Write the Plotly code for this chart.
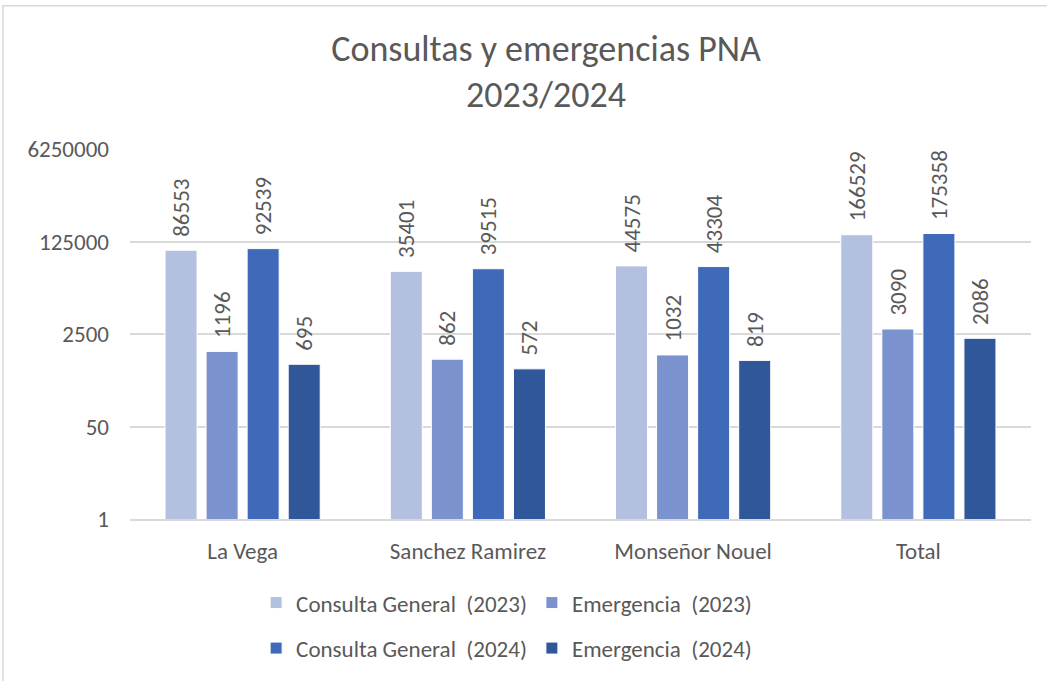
import math
import plotly.graph_objects as go

categories = ["La Vega", "Sanchez Ramirez", "Monseñor Nouel", "Total"]
series_names = ["Consulta General  (2023)", "Emergencia  (2023)",
                "Consulta General  (2024)", "Emergencia  (2024)"]
consulta_2023 = [86553, 35401, 44575, 166529]
emergencia_2023 = [1196, 862, 1032, 3090]
consulta_2024 = [92539, 39515, 43304, 175358]
emergencia_2024 = [695, 572, 819, 2086]
tick_vals = [1, 50, 2500, 125000, 6250000]
tick_text = ["1", "50", "2500", "125000", "6250000"]

colors = ["#B4C0E0", "#7A93CF", "#3F69B9", "#30579A"]
all_series = [consulta_2023, emergencia_2023, consulta_2024, emergencia_2024]
legends = ["legend", "legend", "legend2", "legend2"]

FONT = "Carlito, Calibri, 'Liberation Sans Narrow', 'Noto Sans', sans-serif"
TXT = "#595959"
FS = 23

fig = go.Figure()
for name, vals, col, lg in zip(series_names, all_series, colors, legends):
    fig.add_trace(go.Bar(
        x=categories, y=vals, name=name, legend=lg,
        marker=dict(color=col, line=dict(color="white", width=1)),
        text=["\u00a0\u00a0" + str(v) for v in vals],
        textposition="outside", textangle=-90, constraintext="none",
        textfont=dict(family=FONT, size=FS, color=TXT),
        cliponaxis=False,
    ))

fig.update_layout(
    width=1047, height=681,
    paper_bgcolor="white", plot_bgcolor="white",
    margin=dict(l=130, r=16, t=149, b=160),
    barmode="group", bargap=0.271, bargroupgap=0.22,
    font=dict(family=FONT, color=TXT, size=FS),
    title=dict(text="Consultas y emergencias PNA<br>2023/2024",
               x=0.5215, xanchor="center", y=0.911, yanchor="middle",
               font=dict(family=FONT, size=36, color=TXT)),
    legend=dict(orientation="h", x=0.418, xanchor="center", y=-0.226, yanchor="middle",
                font=dict(family=FONT, size=FS, color=TXT), traceorder="normal"),
    legend2=dict(orientation="h", x=0.418, xanchor="center", y=-0.349, yanchor="middle",
                 font=dict(family=FONT, size=FS, color=TXT), traceorder="normal"),
)
fig.update_yaxes(type="log", range=[0, math.log10(6250000)],
                 tickvals=tick_vals, ticktext=tick_text,
                 showgrid=True, gridcolor="#D9D9D9", gridwidth=1.5,
                 zeroline=False, showline=False, ticks="", ticklabelstandoff=20,
                 tickfont=dict(family=FONT, size=FS, color=TXT))
fig.update_xaxes(showline=True, linecolor="#D9D9D9", linewidth=1.5,
                 ticks="", ticklabelstandoff=11,
                 tickfont=dict(family=FONT, size=FS, color=TXT))
fig.add_shape(type="rect", xref="paper", yref="paper",
              x0=-127/901, x1=1.1, y0=-0.8, y1=1 + 144/372,
              line=dict(color="#D9D9D9", width=1.5), fillcolor="rgba(0,0,0,0)",
              layer="below")
fig.write_html("out.html", config={"displayModeBar": False},
               post_script="document.body.style.margin='0px';")
